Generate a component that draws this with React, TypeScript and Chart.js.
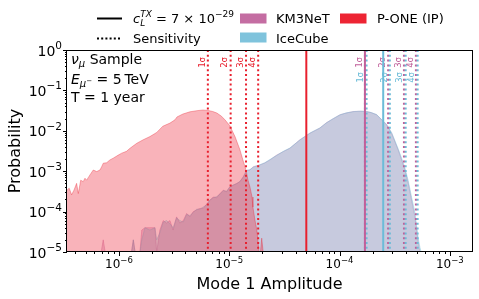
import React, { useEffect, useRef } from 'react';
import { Chart, registerables } from 'chart.js';

Chart.register(...registerables);

// ---------- axis limits & ticks ----------
const X_MIN = 3.38e-7;
const X_MAX = 1.59e-3;
const Y_MIN = 1e-5;
const Y_MAX = 1;
const xTickExponents = [-6, -5, -4, -3];
const yTickExponents = [0, -1, -2, -3, -4, -5];

// ---------- P-ONE (IP) distribution ----------
const pOneAmp = [
  3.38e-7, 3.54e-7, 3.72e-7, 3.91e-7, 4.13e-7, 4.28e-7, 4.5e-7, 4.74e-7, 4.92e-7, 5.09e-7,
  5.46e-7, 5.85e-7, 6.28e-7, 6.73e-7, 6.97e-7, 7.21e-7, 7.73e-7, 8.28e-7, 8.87e-7, 9.86e-7,
  1.06e-6, 1.17e-6, 1.26e-6, 1.45e-6, 1.66e-6, 1.91e-6, 2.2e-6, 2.5e-6, 2.9e-6, 3.22e-6,
  3.36e-6, 3.8e-6, 4.4e-6, 5.1e-6, 5.78e-6, 6.41e-6, 7.1e-6, 7.73e-6, 8.5e-6, 9.14e-6,
  1.01e-5, 1.13e-5, 1.25e-5, 1.33e-5, 1.42e-5, 1.48e-5, 1.54e-5, 1.61e-5, 1.64e-5, 1.71e-5,
  1.78e-5, 1.82e-5, 1.86e-5, 1.92e-5, 1.97e-5, 2.03e-5,
];
const pOneProb = [
  3.4e-4, 3.8e-4, 2.6e-4, 3.4e-4, 5.0e-4, 2.8e-4, 6.0e-4, 5.5e-4, 6.7e-4, 6.0e-4,
  8.1e-4, 1.07e-3, 9.8e-4, 1.07e-3, 1.29e-3, 1.58e-3, 1.62e-3, 1.9e-3, 2.1e-3, 2.5e-3,
  2.8e-3, 3.1e-3, 3.7e-3, 4.9e-3, 6.0e-3, 7.2e-3, 9.1e-3, 1.3e-2, 1.55e-2, 1.87e-2,
  2.2e-2, 2.6e-2, 2.95e-2, 3.15e-2, 3.27e-2, 3.2e-2, 3.0e-2, 2.75e-2, 2.3e-2, 1.87e-2,
  1.35e-2, 7.1e-3, 3.4e-3, 1.9e-3, 1.07e-3, 6.0e-4, 4.1e-4, 2.3e-4, 1.29e-4, 6.2e-5,
  3.5e-5, 1.95e-5, 1e-5, 0, 2.2e-5, 0,
];

// ---------- KM3NeT / IceCube distributions ----------
const km3Amp = [
  6.9e-7, 7.2e-7, 7.5e-7, 1.3e-6, 1.35e-6, 1.4e-6, 1.55e-6, 1.61e-6, 1.72e-6, 1.91e-6,
  2.12e-6, 2.2e-6, 2.35e-6, 2.52e-6, 2.7e-6, 2.9e-6, 3.1e-6, 3.33e-6, 3.57e-6, 3.83e-6,
  4.11e-6, 4.4e-6, 4.72e-6, 5.06e-6, 5.42e-6, 5.81e-6, 6.2e-6, 6.68e-6, 7.16e-6, 7.69e-6,
  8.24e-6, 8.83e-6, 9.47e-6, 1.01e-5, 1.09e-5, 1.17e-5, 1.25e-5, 1.34e-5, 1.44e-5, 1.54e-5,
  1.65e-5, 1.9e-5, 2.1e-5, 2.34e-5, 2.69e-5, 3.09e-5, 3.55e-5, 4.37e-5, 5.39e-5, 6.64e-5,
  7.64e-5, 8.8e-5, 1.01e-4, 1.15e-4, 1.33e-4, 1.55e-4, 1.76e-4, 1.95e-4, 2.17e-4, 2.41e-4,
  2.67e-4, 2.97e-4, 3.18e-4, 3.4e-4, 3.66e-4, 3.92e-4, 4.2e-4, 4.5e-4, 4.83e-4, 5.0e-4,
  5.18e-4, 5.36e-4, 5.5e-4,
];
const km3Prob = [
  0, 2e-5, 0, 0, 2e-5, 0, 0, 3.5e-5, 4e-5, 4e-5,
  4e-5, 1e-5, 3.5e-5, 6e-5, 5.2e-5, 6e-5, 3.5e-5, 7.4e-5, 5.2e-5, 6e-5,
  9e-5, 7.4e-5, 1e-4, 1.1e-4, 1.2e-4, 1.2e-4, 1.5e-4, 1.9e-4, 2.3e-4, 2.2e-4,
  2.8e-4, 3.4e-4, 3.1e-4, 4.1e-4, 4.5e-4, 5.0e-4, 5.5e-4, 7.3e-4, 1.07e-3, 1.07e-3,
  1.29e-3, 1.43e-3, 1.6e-3, 1.9e-3, 2.5e-3, 3.05e-3, 3.7e-3, 6.0e-3, 8.7e-3, 1.17e-2,
  1.6e-2, 2.0e-2, 2.5e-2, 2.75e-2, 3.0e-2, 3.05e-2, 3.0e-2, 2.8e-2, 2.5e-2, 1.87e-2,
  1.41e-2, 8.7e-3, 5.4e-3, 3.4e-3, 1.9e-3, 1.07e-3, 5.0e-4, 1.93e-4, 7.4e-5, 3.5e-5,
  1.65e-5, 1e-5, 0,
];
const iceProb = [
  0, 0, 0, 0, 2e-5, 0, 0, 2e-5, 4e-5, 3.5e-5,
  4e-5, 2e-5, 3e-5, 5.5e-5, 6e-5, 5e-5, 4e-5, 7e-5, 6e-5, 5.5e-5,
  8.5e-5, 8e-5, 9.5e-5, 1.15e-4, 1.15e-4, 1.3e-4, 1.45e-4, 1.95e-4, 2.2e-4, 2.35e-4,
  2.7e-4, 3.3e-4, 3.2e-4, 4.0e-4, 4.6e-4, 4.9e-4, 5.6e-4, 7.1e-4, 1.02e-3, 1.1e-3,
  1.25e-3, 1.45e-3, 1.62e-3, 1.95e-3, 2.45e-3, 3.1e-3, 3.75e-3, 5.9e-3, 8.8e-3, 1.18e-2,
  1.58e-2, 2.02e-2, 2.48e-2, 2.78e-2, 2.98e-2, 3.06e-2, 3.02e-2, 2.82e-2, 2.52e-2, 1.9e-2,
  1.45e-2, 9.0e-3, 5.7e-3, 3.6e-3, 2.1e-3, 1.2e-3, 5.8e-4, 2.3e-4, 9.5e-5, 4.5e-5,
  2.2e-5, 1.3e-5, 1e-5,
];

// ---------- vertical markers ----------
const pOneSignal = 5.0e-5;
const km3Signal = 1.7e-4;
const iceSignal = 2.49e-4;
const sigmaLabels = ['1σ', '2σ', '3σ', '4σ'];
const pOneSens = [6.4e-6, 1.03e-5, 1.42e-5, 1.83e-5];
const km3Sens = [1.7e-4, 2.76e-4, 3.84e-4, 4.93e-4];
const iceSens = [1.76e-4, 2.86e-4, 3.98e-4, 5.11e-4];

// ---------- texts ----------
const xTitle = 'Mode 1 Amplitude';
const yTitle = 'Probability';
const legendNames = ['KM3NeT', 'IceCube', 'P-ONE (IP)', 'Sensitivity'];

// ---------- colors ----------
const C_PONE = '#e8202e';
const C_KM3 = '#c0609a';
const C_ICE = '#6cbcd8';

const FONT = '"DejaVu Sans", sans-serif';
const font = (s: number, it = false) => `${it ? 'italic ' : ''}${s}px ${FONT}`;

type Run = { t: string; s: number; dy?: number; it?: boolean; keep?: boolean };

function runsWidth(ctx: CanvasRenderingContext2D, runs: Run[]) {
  let w = 0;
  for (const r of runs) {
    ctx.font = font(r.s, r.it);
    if (!r.keep) w += ctx.measureText(r.t).width;
  }
  return w;
}

function drawRuns(
  ctx: CanvasRenderingContext2D,
  runs: Run[],
  x: number,
  y: number,
  align: 'left' | 'center' | 'right' = 'left'
) {
  const w = runsWidth(ctx, runs);
  let cx = align === 'left' ? x : align === 'center' ? x - w / 2 : x - w;
  ctx.textAlign = 'left';
  ctx.textBaseline = 'alphabetic';
  for (const r of runs) {
    ctx.font = font(r.s, r.it);
    ctx.fillText(r.t, cx, y + (r.dy || 0));
    if (!r.keep) cx += ctx.measureText(r.t).width;
  }
}

const expText = (e: number) => (e < 0 ? '\u2212' + Math.abs(e) : String(e));

const customPlugin = {
  id: 'customDraw',
  afterDatasetsDraw(chart: any) {
    const { ctx, chartArea: a, scales } = chart;
    const xs = scales.x;
    ctx.save();
    ctx.beginPath();
    ctx.rect(a.left, a.top, a.right - a.left, a.bottom - a.top);
    ctx.clip();

    const vline = (v: number, color: string, dotted: boolean) => {
      const px = xs.getPixelForValue(v);
      ctx.beginPath();
      ctx.strokeStyle = color;
      ctx.lineWidth = 2;
      ctx.setLineDash(dotted ? [2, 2.8] : []);
      ctx.moveTo(px, a.top);
      ctx.lineTo(px, a.bottom);
      ctx.stroke();
    };
    const label = (v: number, text: string, color: string, top: number) => {
      const px = xs.getPixelForValue(v);
      ctx.save();
      ctx.translate(px - 3.2, top);
      ctx.rotate(-Math.PI / 2);
      ctx.fillStyle = color;
      ctx.font = '9px "DejaVu Sans Mono", monospace';
      ctx.textAlign = 'right';
      ctx.textBaseline = 'alphabetic';
      ctx.fillText(text, 0, 0);
      ctx.restore();
    };

    pOneSens.forEach((v, i) => {
      vline(v, C_PONE, true);
      label(v, sigmaLabels[i], C_PONE, 57);
    });
    km3Sens.forEach((v, i) => {
      vline(v, C_KM3, true);
      label(v, sigmaLabels[i], C_KM3, 57);
    });
    iceSens.forEach((v, i) => {
      vline(v, C_ICE, true);
      label(v, sigmaLabels[i], C_ICE, 72);
    });
    vline(pOneSignal, C_PONE, false);
    vline(km3Signal, C_KM3, false);
    vline(iceSignal, C_ICE, false);
    ctx.restore();
  },
  afterDraw(chart: any) {
    const { ctx, chartArea: a, scales } = chart;
    const xs = scales.x;
    const ys = scales.y;
    ctx.save();
    ctx.setLineDash([]);
    ctx.fillStyle = '#000';
    ctx.strokeStyle = '#000';

    // frame
    ctx.lineWidth = 1;
    ctx.strokeRect(a.left - 0.5, a.top + 0.5, a.right - a.left + 1, a.bottom - a.top - 1);

    // x ticks
    for (let d = -7; d <= -2; d++) {
      for (let k = 1; k <= 9; k++) {
        const v = k * Math.pow(10, d);
        if (v < X_MIN || v > X_MAX) continue;
        const px = Math.round(xs.getPixelForValue(v)) + 0.5;
        ctx.beginPath();
        ctx.moveTo(px, a.bottom);
        ctx.lineTo(px, a.bottom + (k === 1 ? 4 : 2));
        ctx.stroke();
      }
    }
    // y ticks
    for (let d = -5; d <= 0; d++) {
      for (let k = 1; k <= 9; k++) {
        const v = k * Math.pow(10, d);
        if (v < Y_MIN || v > Y_MAX * 1.0001) continue;
        const py = Math.round(ys.getPixelForValue(v)) + 0.5;
        ctx.beginPath();
        ctx.moveTo(a.left, py);
        ctx.lineTo(a.left - (k === 1 ? 4 : 2), py);
        ctx.stroke();
      }
    }

    // tick labels
    xTickExponents.forEach((e) => {
      const px = xs.getPixelForValue(Math.pow(10, e));
      drawRuns(ctx, [{ t: '10', s: 12 }, { t: expText(e), s: 8.5, dy: -5 }], px, 268, 'center');
    });
    yTickExponents.forEach((e) => {
      const py = ys.getPixelForValue(Math.pow(10, e));
      drawRuns(ctx, [{ t: '10', s: 14 }, { t: expText(e), s: 10.5, dy: -6.5 }], 62, py + 5.5, 'right');
    });

    // axis titles
    ctx.font = font(16);
    ctx.textAlign = 'center';
    ctx.textBaseline = 'alphabetic';
    ctx.fillText(xTitle, (a.left + a.right) / 2, 289);
    ctx.save();
    ctx.translate(20, (a.top + a.bottom) / 2);
    ctx.rotate(-Math.PI / 2);
    ctx.fillText(yTitle, 0, 0);
    ctx.restore();

    // text box
    drawRuns(ctx, [{ t: 'ν', s: 14, it: true }, { t: 'μ', s: 10, it: true, dy: 3 }, { t: ' Sample', s: 14 }], 71, 63.5);
    drawRuns(
      ctx,
      [
        { t: 'E', s: 14, it: true },
        { t: 'μ', s: 10, it: true, dy: 3 },
        { t: '\u2212', s: 7, dy: -1 },
        { t: ' = 5\u2009TeV', s: 14 },
      ],
      71,
      83.5
    );
    drawRuns(ctx, [{ t: 'T = 1 year', s: 14 }], 71, 102);

    // legend
    ctx.lineWidth = 2;
    ctx.beginPath();
    ctx.moveTo(97, 18.5);
    ctx.lineTo(122, 18.5);
    ctx.stroke();
    ctx.setLineDash([2, 2.2]);
    ctx.beginPath();
    ctx.moveTo(97, 38.5);
    ctx.lineTo(122, 38.5);
    ctx.stroke();
    ctx.setLineDash([]);
    drawRuns(
      ctx,
      [
        { t: 'c', s: 13, it: true },
        { t: 'L', s: 9, it: true, dy: 3.5, keep: true },
        { t: 'TX', s: 9, it: true, dy: -6 },
        { t: ' = 7 × 10', s: 13 },
        { t: '\u221229', s: 9, dy: -6 },
      ],
      133,
      22.5
    );
    ctx.fillStyle = '#000';
    drawRuns(ctx, [{ t: legendNames[3], s: 13 }], 133, 42.5);

    const patch = (x: number, y: number, c: string) => {
      ctx.fillStyle = c;
      ctx.fillRect(x, y, 26.5, 10);
    };
    patch(240, 13.5, 'rgba(186,84,146,0.85)');
    patch(240, 32.5, 'rgba(104,184,214,0.85)');
    patch(340, 13.5, 'rgba(236,24,40,0.95)');
    ctx.fillStyle = '#000';
    drawRuns(ctx, [{ t: legendNames[0], s: 13 }], 276, 22.5);
    drawRuns(ctx, [{ t: legendNames[1], s: 13 }], 276, 42.5);
    drawRuns(ctx, [{ t: legendNames[2], s: 13 }], 377, 22.5);

    ctx.restore();
  },
};

const toPoints = (xs: number[], ys: number[]) => xs.map((x, i) => ({ x, y: ys[i] }));

export default function App() {
  const ref = useRef<HTMLCanvasElement | null>(null);
  useEffect(() => {
    if (!ref.current) return;
    const chart = new Chart(ref.current, {
      type: 'line',
      data: {
        datasets: [
          {
            label: 'P-ONE (IP)',
            data: toPoints(pOneAmp, pOneProb),
            borderColor: 'rgba(232,32,46,0.35)',
            backgroundColor: 'rgba(239,38,56,0.35)',
            borderWidth: 1,
            fill: 'start',
            pointRadius: 0,
            tension: 0,
            order: 0,
          },
          {
            label: 'KM3NeT',
            data: toPoints(km3Amp, km3Prob),
            borderColor: 'rgba(192,98,154,0.35)',
            backgroundColor: 'rgba(192,98,154,0.3)',
            borderWidth: 1,
            fill: 'start',
            pointRadius: 0,
            tension: 0,
            order: 2,
          },
          {
            label: 'IceCube',
            data: toPoints(km3Amp, iceProb),
            borderColor: 'rgba(112,188,216,0.4)',
            backgroundColor: 'rgba(112,188,216,0.3)',
            borderWidth: 1,
            fill: 'start',
            pointRadius: 0,
            tension: 0,
            order: 1,
          },
        ],
      },
      options: {
        responsive: false,
        animation: false,
        parsing: false,
        events: [],
        layout: { padding: { left: 67, top: 50, right: 7, bottom: 47 } },
        plugins: { legend: { display: false }, tooltip: { enabled: false } },
        scales: {
          x: { type: 'logarithmic', min: X_MIN, max: X_MAX, display: false },
          y: { type: 'logarithmic', min: Y_MIN, max: Y_MAX, display: false },
        },
      } as any,
      plugins: [customPlugin],
    });
    return () => chart.destroy();
  }, []);
  return (
    <div style={{ position: 'fixed', left: 0, top: 0, width: 479, height: 299, background: '#fff' }}>
      <canvas ref={ref} width={479} height={299} style={{ display: 'block' }} />
    </div>
  );
}
